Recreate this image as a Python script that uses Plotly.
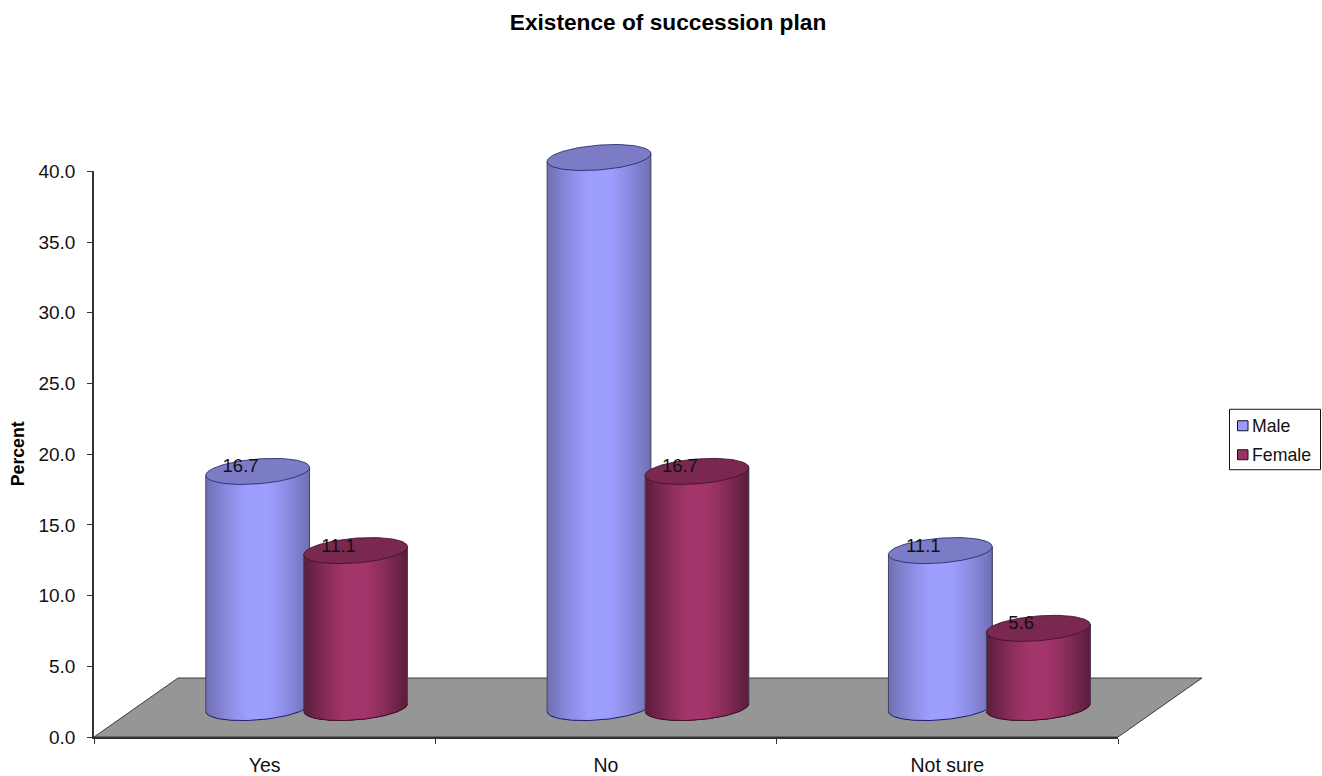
import numpy as np
import plotly.graph_objects as go

# Survey results, percent of respondents
categories = ["Yes", "No", "Not sure"]
male = [16.7, 38.9, 11.1]
female = [11.1, 16.7, 5.6]
y_ticks = [0, 5, 10, 15, 20, 25, 30, 35, 40]

# Oblique projection of the chart box, in axis units
DEPTH_X = 0.246
DEPTH_Y = 4.17
RADIUS = 0.152
SPREAD = 0.1435
ELLIPSE_B = 0.88
ELLIPSE_TILT = 0.28
STRIPS = 40

MALE_RGB = (158, 158, 255)
FEMALE_RGB = (162, 53, 106)
MALE_TOP = "#7c7cc6"
FEMALE_TOP = "#7a2850"
MALE_LINE = "#1c1c66"
FEMALE_LINE = "#3a0f28"

W, H = 1322, 776
# Axis box in pixels, and the larger drawing area that holds the 3D marks
AX_L, AX_R, AX_T, AX_B = 94, 1118, 171.5, 737.5
DRAW_R, DRAW_T = 1212, 125
PLOT_W, PLOT_H = DRAW_R - AX_L, AX_B - DRAW_T
X_FRAC, Y_FRAC = (AX_R - AX_L) / PLOT_W, (AX_B - AX_T) / PLOT_H


def px(x):
    return (x - AX_L) / PLOT_W


def py(y):
    return (AX_B - y) / PLOT_H


def rim(cx, cy, t):
    """Point on a cylinder rim for parameter angle t (front half for t in 0..pi)."""
    return cx + RADIUS * np.cos(t), cy + ELLIPSE_TILT * np.cos(t) - ELLIPSE_B * np.sin(t)


def shade(rgb, u, edge):
    k = max(0.0, (abs(u - 0.5) - 0.08) / 0.42) ** 1.3
    f = 1 - (1 - edge) * k
    return "rgb({:.0f},{:.0f},{:.0f})".format(*(c * f for c in rgb))


def poly(fig, x, y, color, line=None, width=0.0):
    fig.add_trace(go.Scatter(
        x=x, y=y, mode="lines", fill="toself", fillcolor=color,
        line=dict(color=line or color, width=width), showlegend=False,
        hoverinfo="skip"))


def stroke(fig, x, y, color, width):
    fig.add_trace(go.Scatter(
        x=x, y=y, mode="lines", line=dict(color=color, width=width),
        showlegend=False, hoverinfo="skip"))


def cylinder(fig, cx, value, rgb, top_color, line_color, edge):
    base = DEPTH_Y / 2
    top = value + DEPTH_Y / 2
    # body: left-to-right strips, each running to the right edge so no seams appear
    for i in range(STRIPS):
        u = i / STRIPS
        t0 = np.arccos(np.clip(2 * u - 1, -1, 1))
        t = np.linspace(t0, 0, 40)
        xb, yb = rim(cx, base, t)
        xt, yt = rim(cx, top, t[::-1])
        poly(fig, np.r_[xb, xt], np.r_[yb, yt], shade(rgb, u + 0.5 / STRIPS, edge))
    # silhouette lines and bottom arc
    t = np.linspace(np.pi, 0, 80)
    xb, yb = rim(cx, base, t)
    stroke(fig, xb, yb, line_color, 1)
    for a in (np.pi, 0.0):
        xs, ys0 = rim(cx, base, np.array([a]))
        _, ys1 = rim(cx, top, np.array([a]))
        stroke(fig, [xs[0], xs[0]], [ys0[0], ys1[0]], "#45455f", 1)
    # top cap
    t = np.linspace(0, 2 * np.pi, 120)
    xc, yc = rim(cx, top, t)
    poly(fig, xc, yc, top_color, line_color, 0.8)


fig = go.Figure()

# Grey floor of the chart box
poly(fig,
     [0, 3, 3 + DEPTH_X, DEPTH_X, 0],
     [0, 0, DEPTH_Y, DEPTH_Y, 0],
     "#969696", "#3c3c3c", 1)

# Cylinders, then their value labels
label_x, label_y, label_text = [], [], []
for i in range(len(categories)):
    centre = i + 0.5 + DEPTH_X / 2
    for off, v, rgb, tc, lc, edge in (
        (-SPREAD, male[i], MALE_RGB, MALE_TOP, MALE_LINE, 0.70),
        (SPREAD, female[i], FEMALE_RGB, FEMALE_TOP, FEMALE_LINE, 0.55),
    ):
        cylinder(fig, centre + off, v, rgb, tc, lc, edge)
        label_x.append(centre + off - 0.05)
        label_y.append(v + DEPTH_Y / 2 + 0.25)
        label_text.append(f"{v:.1f}")

# Labels sit on the visible axes, whose subplot is layered over the marks
fig.add_trace(go.Scatter(
    x=label_x, y=label_y, text=label_text, mode="text", xaxis="x2", yaxis="y2",
    textposition="middle center", showlegend=False, hoverinfo="skip",
    cliponaxis=False,
    textfont=dict(family="Liberation Sans", size=18.5, color="#111111")))

AXIS_FONT = dict(family="Liberation Sans", size=19, color="#111111")
CAT_FONT = dict(family="Liberation Sans", size=19.5, color="#111111")
LEGEND_FONT = dict(family="Liberation Sans", size=17.7, color="#111111")

fig.update_layout(
    width=W, height=H, autosize=False, showlegend=False,
    paper_bgcolor="white", plot_bgcolor="rgba(0,0,0,0)",
    margin=dict(l=AX_L, r=W - DRAW_R, t=DRAW_T, b=H - AX_B, pad=0),
    title=dict(text="<b>Existence of succession plan</b>",
               x=668 / W, xanchor="center", y=1 - 22 / H, yanchor="middle",
               font=dict(family="Liberation Sans", size=22.7, color="#000000")),
    # Marks are drawn on these hidden axes, which share the visible axes' scale
    xaxis=dict(domain=[0, 1], range=[0, 3 / X_FRAC], visible=False, automargin=False),
    yaxis=dict(domain=[0, 1], range=[0, 40 / Y_FRAC], visible=False, automargin=False),
    xaxis2=dict(domain=[0, X_FRAC], range=[0, 3], anchor="y2", tickmode="array",
                tickvals=[0.5, 1.5, 2.5], ticktext=categories,
                ticks="", ticklabelstandoff=10, showgrid=False, zeroline=False,
                showline=True, linecolor="#333333", linewidth=1.5,
                tickfont=CAT_FONT, automargin=False,
                minor=dict(tickmode="array", tickvals=[0, 1, 2, 3], ticks="outside",
                           ticklen=5, tickcolor="#333333", tickwidth=1, showgrid=False)),
    yaxis2=dict(domain=[0, Y_FRAC], range=[0, 40], anchor="x2", tickmode="array",
                tickvals=y_ticks, tickformat=".1f", ticks="outside", ticklen=5,
                tickcolor="#333333", tickwidth=1, ticklabelstandoff=8,
                showgrid=False, zeroline=False, showline=True,
                linecolor="#333333", linewidth=1.5, tickfont=AXIS_FONT,
                automargin=False),
    annotations=[
        dict(text="<b>Percent</b>", textangle=-90, xref="paper", yref="paper",
             x=px(17.5), y=py(454), xanchor="center", yanchor="middle",
             showarrow=False, font=dict(family="Liberation Sans", size=17.7, color="#000000")),
        dict(text="Male", xref="paper", yref="paper",
             x=px(1250), y=py(426), xanchor="left", yanchor="middle",
             showarrow=False, font=LEGEND_FONT),
        dict(text="Female", xref="paper", yref="paper",
             x=px(1250), y=py(455), xanchor="left", yanchor="middle",
             showarrow=False, font=LEGEND_FONT),
    ],
    shapes=[
        dict(type="rect", xref="paper", yref="paper",
             x0=px(1229.5), x1=px(1320.5), y0=py(470), y1=py(409.5),
             line=dict(color="#111111", width=1), fillcolor="white"),
        dict(type="rect", xref="paper", yref="paper",
             x0=px(1237.5), x1=px(1248), y0=py(431), y1=py(421),
             line=dict(color="#111111", width=1), fillcolor="#9999ff"),
        dict(type="rect", xref="paper", yref="paper",
             x0=px(1237.5), x1=px(1248), y0=py(460), y1=py(450),
             line=dict(color="#111111", width=1), fillcolor="#993366"),
    ],
)

fig.write_html("out.html")
